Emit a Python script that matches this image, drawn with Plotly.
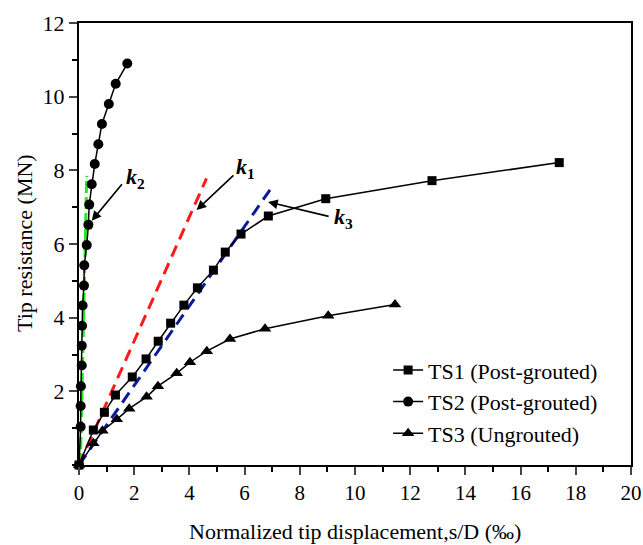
import plotly.graph_objects as go

# TS1 (Post-grouted)
ts1_x = [0, 0.52, 0.92, 1.32, 1.93, 2.43, 2.87, 3.32, 3.80, 4.29, 4.87, 5.30, 5.87, 6.86, 8.94, 12.79, 17.40]
ts1_y = [0, 0.95, 1.43, 1.90, 2.39, 2.88, 3.36, 3.85, 4.34, 4.81, 5.29, 5.78, 6.27, 6.76, 7.23, 7.72, 8.21]

# TS2 (Post-grouted)
ts2_x = [0, 0.06, 0.06, 0.07, 0.10, 0.10, 0.11, 0.13, 0.18, 0.19, 0.28, 0.34, 0.37, 0.46, 0.57, 0.70, 0.83, 1.08, 1.33, 1.75]
ts2_y = [0, 1.04, 1.60, 2.14, 2.70, 3.24, 3.78, 4.33, 4.87, 5.42, 5.97, 6.52, 7.07, 7.62, 8.17, 8.71, 9.26, 9.80, 10.35, 10.90]

# TS3 (Ungrouted)
ts3_x = [0, 0.52, 0.85, 1.37, 1.82, 2.45, 2.86, 3.54, 4.02, 4.63, 5.47, 6.74, 9.03, 11.45]
ts3_y = [0, 0.59, 0.93, 1.24, 1.53, 1.85, 2.14, 2.49, 2.79, 3.09, 3.42, 3.70, 4.05, 4.36]

# tangent lines
k1_x = [0, 4.62]
k1_y = [0, 7.78]
k2_x = [0.05, 0.28]
k2_y = [0, 7.85]
k3_x = [0, 7.02]
k3_y = [0, 7.58]

x_ticks = list(range(0, 21, 2))
y_ticks = [2, 4, 6, 8, 10, 12]

x_title = "Normalized tip displacement,s/D (‰)"
y_title = "Tip resistance (MN)"

font_family = "Liberation Serif"

fig = go.Figure()

fig.add_trace(go.Scatter(x=k2_x, y=k2_y, mode="lines", showlegend=False,
                         line=dict(color="#22ee22", width=3, dash="12px,4px"), cliponaxis=False))
fig.add_trace(go.Scatter(x=k1_x, y=k1_y, mode="lines", showlegend=False,
                         line=dict(color="#ff1a1a", width=3, dash="12px,7px"), cliponaxis=False))
fig.add_trace(go.Scatter(x=k3_x, y=k3_y, mode="lines", showlegend=False,
                         line=dict(color="#0a1a9a", width=3, dash="12px,7px"), cliponaxis=False))

fig.add_trace(go.Scatter(x=ts1_x, y=ts1_y, mode="lines+markers", name="TS1 (Post-grouted)",
                         line=dict(color="black", width=1.5),
                         marker=dict(symbol="square", size=9, color="black"), cliponaxis=False))
fig.add_trace(go.Scatter(x=ts2_x, y=ts2_y, mode="lines+markers", name="TS2 (Post-grouted)",
                         line=dict(color="black", width=1.5),
                         marker=dict(symbol="circle", size=10, color="black"), cliponaxis=False))
fig.add_trace(go.Scatter(x=ts3_x, y=ts3_y, mode="lines+markers", name="TS3 (Ungrouted)",
                         line=dict(color="black", width=1.5),
                         marker=dict(symbol="triangle-up", size=11, color="black"), cliponaxis=False))

anns = [
    dict(text="<b><i>k</i><sub>2</sub></b>", tx=2.05, ty=7.8, ax=1.6, ay=7.66, hx=0.46, hy=6.63),
    dict(text="<b><i>k</i><sub>1</sub></b>", tx=6.05, ty=8.05, ax=5.65, ay=7.9, hx=4.26, hy=6.92),
    dict(text="<b><i>k</i><sub>3</sub></b>", tx=9.6, ty=6.7, ax=9.1, ay=6.74, hx=6.85, hy=7.14),
]
for a in anns:
    fig.add_annotation(x=a["tx"], y=a["ty"], text=a["text"], showarrow=False,
                       font=dict(family=font_family, size=22, color="black"))
    fig.add_annotation(x=a["hx"], y=a["hy"], ax=a["ax"], ay=a["ay"], axref="x", ayref="y",
                       text="", showarrow=True, arrowhead=2, arrowsize=1.2, arrowwidth=1.6,
                       arrowcolor="black")

# axis titles as paper annotations
fig.add_annotation(xref="paper", yref="paper", x=0.5, y=-0.15, text=x_title, showarrow=False,
                   xanchor="center", yanchor="middle", font=dict(family=font_family, size=22))
fig.add_annotation(xref="paper", yref="paper", x=-0.1, y=0.502, text=y_title, showarrow=False,
                   textangle=-90, xanchor="center", yanchor="middle",
                   font=dict(family=font_family, size=22))

fig.update_layout(
    width=643, height=545,
    margin=dict(l=79, r=12, t=23, b=80, autoexpand=False),
    paper_bgcolor="white", plot_bgcolor="white",
    font=dict(family=font_family, color="black", size=22),
    legend=dict(x=0.56, y=0.262, xanchor="left", yanchor="top",
                font=dict(size=22, family=font_family), bgcolor="rgba(0,0,0,0)",
                tracegroupgap=0),
    xaxis=dict(range=[0, 20], tickvals=x_ticks, ticks="outside", ticklen=8, tickwidth=1.5,
               showline=True, linewidth=2, linecolor="black", mirror=True, showgrid=False,
               zeroline=False, tickfont=dict(size=21), automargin=False,
               minor=dict(dtick=1, tick0=0, ticks="outside", ticklen=5, tickwidth=1.5, tickcolor="black")),
    yaxis=dict(range=[0, 12], tickvals=y_ticks, ticks="outside", ticklen=8, tickwidth=1.5,
               showline=True, linewidth=2, linecolor="black", mirror=True, showgrid=False,
               zeroline=False, tickfont=dict(size=22), automargin=False,
               minor=dict(dtick=1, tick0=0, ticks="outside", ticklen=5, tickwidth=1.5, tickcolor="black")),
)

fig.write_html("out.html")
